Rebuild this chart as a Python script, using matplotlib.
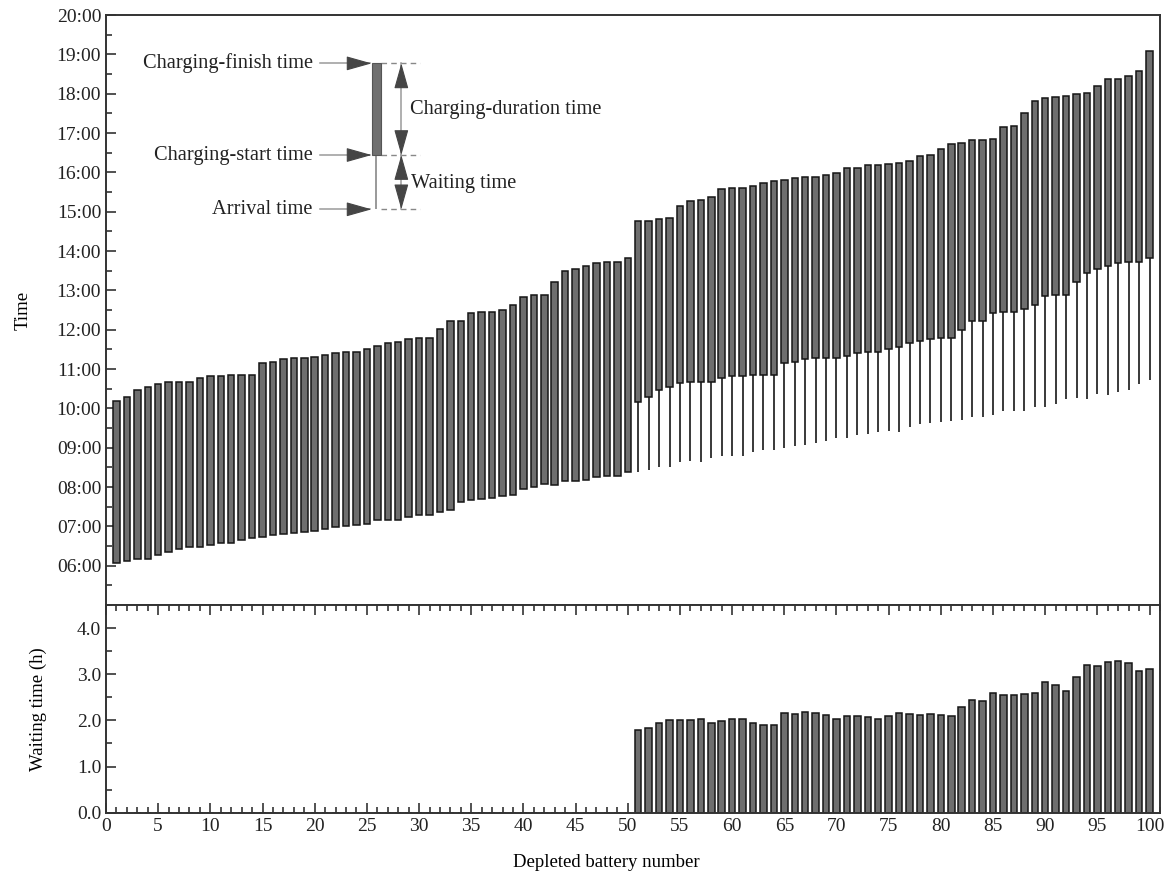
import numpy as np
import matplotlib
matplotlib.use("Agg")
import matplotlib.pyplot as plt
from matplotlib.ticker import MultipleLocator, FixedLocator

plt.rcParams['font.family'] = ['Liberation Serif', 'DejaVu Serif']

# ---------------- data (hours of day) ----------------
battery = np.arange(1, 101)

charge_start = [
    6.08, 6.12, 6.18, 6.18, 6.26, 6.35, 6.42, 6.47, 6.47, 6.53,
    6.57, 6.57, 6.66, 6.70, 6.73, 6.77, 6.80, 6.83, 6.85, 6.89,
    6.94, 6.98, 7.01, 7.04, 7.06, 7.15, 7.17, 7.17, 7.25, 7.29,
    7.28, 7.36, 7.41, 7.61, 7.67, 7.69, 7.73, 7.78, 7.80, 7.95,
    8.01, 8.07, 8.05, 8.15, 8.15, 8.18, 8.25, 8.27, 8.28, 8.37,
    10.17, 10.28, 10.47, 10.53, 10.64, 10.67, 10.67, 10.67, 10.78, 10.83,
    10.83, 10.85, 10.85, 10.85, 11.15, 11.17, 11.26, 11.28, 11.28, 11.28,
    11.33, 11.40, 11.43, 11.43, 11.51, 11.57, 11.67, 11.70, 11.76, 11.78,
    11.78, 12.00, 12.21, 12.21, 12.42, 12.46, 12.46, 12.52, 12.63, 12.86,
    12.88, 12.88, 13.20, 13.45, 13.54, 13.62, 13.69, 13.71, 13.71, 13.83,
]

charge_finish = [
    10.19, 10.29, 10.47, 10.53, 10.62, 10.67, 10.67, 10.67, 10.78, 10.83,
    10.83, 10.85, 10.85, 10.85, 11.16, 11.18, 11.26, 11.28, 11.29, 11.30,
    11.35, 11.41, 11.42, 11.43, 11.51, 11.59, 11.67, 11.69, 11.76, 11.78,
    11.78, 12.01, 12.21, 12.22, 12.43, 12.45, 12.45, 12.51, 12.62, 12.84,
    12.88, 12.88, 13.21, 13.48, 13.55, 13.63, 13.70, 13.73, 13.73, 13.83,
    14.77, 14.77, 14.82, 14.83, 15.15, 15.28, 15.30, 15.37, 15.58, 15.61,
    15.61, 15.64, 15.72, 15.78, 15.81, 15.85, 15.88, 15.89, 15.92, 15.99,
    16.10, 16.10, 16.19, 16.19, 16.21, 16.25, 16.30, 16.42, 16.43, 16.59,
    16.71, 16.74, 16.81, 16.82, 16.84, 17.14, 17.19, 17.50, 17.81, 17.88,
    17.91, 17.95, 17.98, 18.01, 18.20, 18.37, 18.37, 18.46, 18.58, 19.09,
]

waiting_time = [0.0] * 50 + [
    1.79, 1.84, 1.95, 2.01, 2.01, 2.01, 2.03, 1.94, 1.99, 2.04,
    2.04, 1.95, 1.91, 1.91, 2.17, 2.14, 2.18, 2.15, 2.12, 2.04,
    2.09, 2.09, 2.07, 2.04, 2.09, 2.16, 2.14, 2.11, 2.14, 2.12,
    2.09, 2.29, 2.44, 2.42, 2.60, 2.54, 2.54, 2.58, 2.59, 2.83,
    2.77, 2.64, 2.94, 3.20, 3.17, 3.27, 3.28, 3.25, 3.08, 3.12,
]

time_ticks = list(range(6, 21))
time_tick_labels = ["%02d:00" % h for h in time_ticks]
wait_ticks = [0, 1, 2, 3, 4]
wait_tick_labels = ["0.0", "1.0", "2.0", "3.0", "4.0"]

# schematic example in the legend area
demo_x = 25.9
demo_arrival, demo_start, demo_finish = 15.06, 16.44, 18.77

# ---------------- derived ----------------
start = np.array(charge_start)
finish = np.array(charge_finish)
wait = np.array(waiting_time)
arrival = start - wait

BAR_FACE = '#6e6e6e'
BAR_EDGE = '#151515'
SPINE = '#333333'
FS_TICK = 14
FS_LAB = 13.5
FS_ANN = 14.7

W, H = 1171, 877
fig = plt.figure(figsize=(W / 100, H / 100), dpi=100)
left, right = 106 / W, 1160 / W
y_top, y_mid, y_bot = 1 - 15 / H, 1 - 605 / H, 1 - 812.7 / H
ax1 = fig.add_axes([left, y_mid, right - left, y_top - y_mid])
ax2 = fig.add_axes([left, y_bot, right - left, y_mid - y_bot])

bw = 0.62
# ---------------- top panel ----------------
ax1.vlines(battery, arrival, start, colors='#2a2a2a', linewidth=1.3, zorder=1)
ax1.bar(battery, finish - start, bottom=start, width=bw, color=BAR_FACE,
        edgecolor=BAR_EDGE, linewidth=1.1, zorder=2)
ax1.set_xlim(0, 101)
ax1.set_ylim(5, 20)
ax1.yaxis.set_major_locator(FixedLocator(time_ticks))
ax1.set_yticklabels(time_tick_labels)
ax1.yaxis.set_minor_locator(MultipleLocator(0.5))
ax1.tick_params(axis='y', which='both', direction='in', left=True, right=False,
                labelsize=FS_TICK, color=SPINE, width=1.2)
ax1.tick_params(axis='y', which='major', length=7)
ax1.tick_params(axis='y', which='minor', length=4)
ax1.tick_params(axis='x', which='both', bottom=False, top=False, labelbottom=False)
ax1.set_ylabel('Time', fontsize=FS_LAB)
ax1.yaxis.set_label_coords(-0.071, 0.5)

# schematic annotation
ax1.bar([demo_x], [demo_finish - demo_start], bottom=[demo_start], width=0.85,
        color='#707070', edgecolor='#555555', linewidth=0.8, zorder=3)
ax1.vlines([demo_x], demo_arrival, demo_start, colors='#888888', linewidth=1.2, zorder=2)
for yv in (demo_finish, demo_start, demo_arrival):
    ax1.plot([demo_x + 0.45, 30.1], [yv, yv], linestyle=(0, (4, 3)),
             color='#888888', linewidth=1.0, zorder=2)

HEAD = dict(arrowstyle='-|>,head_length=1.6,head_width=0.45',
            fc='#454545', ec='#454545', linewidth=0.8, shrinkA=0, shrinkB=0)
SHAFT = dict(color='#9a9a9a', linewidth=1.1, zorder=2)


def head(x, y, dx, dy):
    ax1.annotate('', xy=(x, y), xytext=(dx, dy), textcoords='offset points',
                 arrowprops=HEAD, zorder=4)


for label, yv in [('Charging-finish time', demo_finish),
                  ('Charging-start time', demo_start),
                  ('Arrival time', demo_arrival)]:
    ax1.plot([20.5, demo_x - 0.6], [yv, yv], **SHAFT)
    head(demo_x - 0.45, yv, -16, 0)
    ax1.text(19.8, yv, label, ha='right', va='center', fontsize=FS_ANN, color='#222222')

arr_x = 28.3
for y_hi, y_lo in [(demo_finish, demo_start), (demo_start, demo_arrival)]:
    ax1.plot([arr_x, arr_x], [y_lo, y_hi], **SHAFT)
    head(arr_x, y_hi, 0, -16)
    head(arr_x, y_lo, 0, 16)

ax1.text(29.1, (demo_finish + demo_start) / 2, 'Charging-duration time',
         ha='left', va='center', fontsize=FS_ANN, color='#222222')
ax1.text(29.2, 15.72, 'Waiting time', ha='left', va='center', fontsize=FS_ANN, color='#222222')

# ---------------- bottom panel ----------------
ax2.bar(battery, wait, width=bw, color=BAR_FACE, edgecolor=BAR_EDGE,
        linewidth=1.1, zorder=2)
ax2.set_xlim(0, 101)
ax2.set_ylim(0, 4.5)
ax2.xaxis.set_major_locator(MultipleLocator(5))
ax2.xaxis.set_minor_locator(MultipleLocator(1))
ax2.yaxis.set_major_locator(FixedLocator(wait_ticks))
ax2.set_yticklabels(wait_tick_labels)
ax2.yaxis.set_minor_locator(MultipleLocator(0.5))
ax2.tick_params(axis='both', which='both', direction='in', labelsize=FS_TICK,
                color=SPINE, width=1.2)
ax2.tick_params(axis='x', which='both', top=True, bottom=True)
ax2.tick_params(axis='y', which='both', left=True, right=False)
ax2.tick_params(which='major', length=7)
ax2.tick_params(which='minor', length=4)
ax2.set_ylabel('Waiting time (h)', fontsize=FS_LAB)
ax2.yaxis.set_label_coords(-0.056, 0.5)
ax2.set_xlabel('Depleted battery number', fontsize=FS_LAB)
ax2.xaxis.set_label_coords(0.475, -0.2)

for ax in (ax1, ax2):
    for sp in ax.spines.values():
        sp.set_color(SPINE)
        sp.set_linewidth(1.4)
    for lab in ax.get_xticklabels() + ax.get_yticklabels():
        lab.set_color('#222222')

fig.savefig('out.png', dpi=100)
